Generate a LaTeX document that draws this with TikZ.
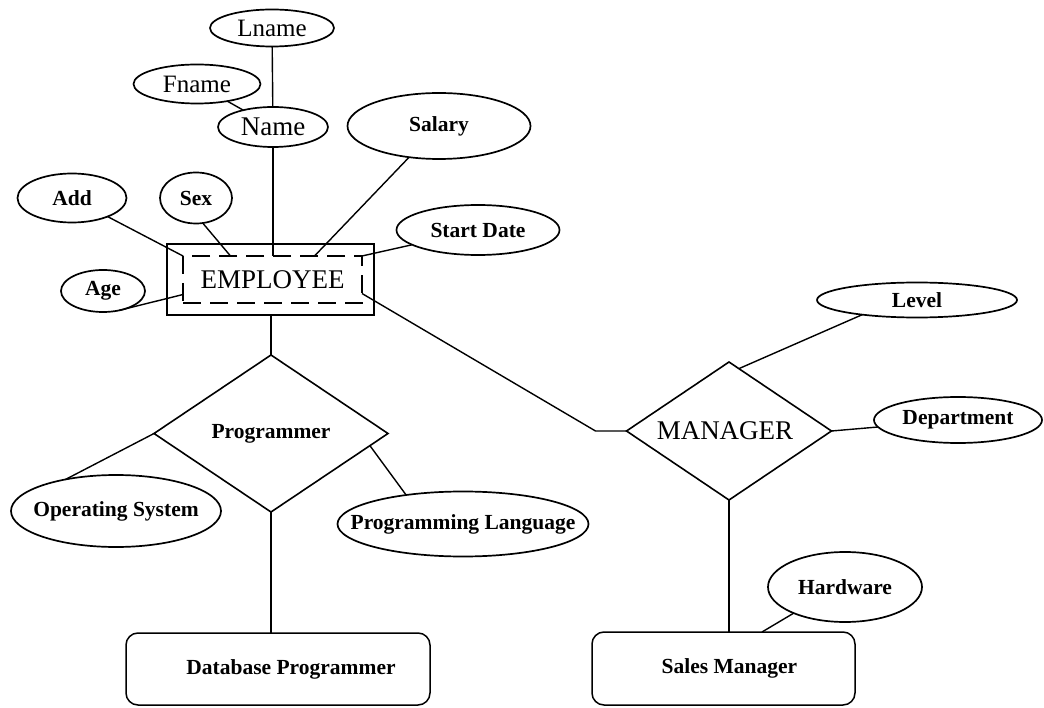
\documentclass[tikz,border=0pt]{standalone}
\usepackage{fontspec}
\setmainfont{Liberation Serif}
\usetikzlibrary{shapes.geometric,calc}
\newcommand\erdbold{\fontsize{21.5}{24}\selectfont\bfseries}
\newcommand\erdplain{\fontsize{27}{30}\selectfont}
\newcommand\erdsmall{\fontsize{25}{28}\selectfont}
\begin{document}
\begin{tikzpicture}[x=1pt,y=-1pt,
  every node/.style={inner sep=0pt,outer sep=0pt},
  oval/.style={ellipse,draw,line width=1.7pt},
  rel/.style={diamond,draw,line width=1.6pt},
  entbox/.style={draw,rounded corners=12pt,line width=1.5pt},
  bold label/.style={label={[font=\erdbold]center:#1}},
  plain label/.style={label={[font=\erdplain]center:#1}},
  small label/.style={label={[font=\erdsmall]center:#1}},
  link/.style={line width=1.4pt}]
\useasboundingbox (0,0) rectangle (1044,708);

% weak entity EMPLOYEE
\node[draw,line width=1.4pt,minimum width=207pt,minimum height=71pt] (emp) at (270.5,279.5) {};
\node[draw,line width=1.5pt,dash pattern=on 18pt off 9pt,minimum width=179pt,minimum height=47pt,font=\erdplain] (empin) at (272.5,279.5) {EMPLOYEE};

% attributes of EMPLOYEE
\node[oval,minimum width=124pt,minimum height=37pt,small label=Lname] (lname) at (272,28) {};
\node[oval,minimum width=127pt,minimum height=39pt,small label=Fname] (fname) at (197,84) {};
\node[oval,minimum width=110pt,minimum height=40pt,plain label=Name] (name) at (273,127) {};
\node[oval,minimum width=183pt,minimum height=66pt,bold label=Salary] (salary) at (439,126) {};
\node[oval,minimum width=109pt,minimum height=49pt,bold label=Add] (add) at (72,198) {};
\node[oval,minimum width=72pt,minimum height=51pt,bold label=Sex] (sex) at (196,198) {};
\node[oval,minimum width=163pt,minimum height=50pt,bold label=Start Date] (start) at (478,230) {};
\node[oval,minimum width=84pt,minimum height=42pt,bold label=Age] (age) at (103,291) {};

% Programmer branch
\node[rel,minimum width=234pt,minimum height=157pt,bold label=Programmer] (prog) at (271,433.5) {};
\node[oval,minimum width=210pt,minimum height=72pt,bold label=Operating System] (os) at (116,511) {};
\node[oval,minimum width=251pt,minimum height=65pt,bold label=Programming Language] (pl) at (463,524) {};
\node[entbox,minimum width=304pt,minimum height=72pt,label={[font=\erdbold,xshift=13pt]center:Database Programmer}] (dbp) at (278,669) {};

% MANAGER branch
\node[rel,minimum width=205pt,minimum height=138pt,label={[font=\erdplain,xshift=-4pt]center:MANAGER}] (mgr) at (729,431) {};
\node[oval,minimum width=200pt,minimum height=35pt,bold label=Level] (level) at (917,300) {};
\node[oval,minimum width=168pt,minimum height=46pt,bold label=Department] (dept) at (958,420) {};
\node[oval,minimum width=154pt,minimum height=70pt,bold label=Hardware] (hw) at (845,587) {};
\node[entbox,minimum width=263pt,minimum height=73pt,label={[font=\erdbold,xshift=6pt]center:Sales Manager}] (sm) at (723.5,668.5) {};

% connectors around EMPLOYEE
\draw[link] (lname) -- (name);
\draw[link] (fname) -- (name);
\draw[link] (name) -- (name |- empin.north);
\draw[link] (salary) -- ($(empin.north)+(42,0)$);
\draw[link] (sex.-75) -- ($(empin.north)+(-42,0)$);
\draw[link] (add) -- (empin.north west);
\draw[link] (start) -- (empin.north east);
\draw[link] (age.-50) -- ($(empin.west)+(0,15)$);

% connectors of Programmer
\draw[link] (prog.north |- emp.south) -- (prog.north);
\draw[link] (os.148) -- (prog.west);
\draw[link] (prog.-7) -- (pl.153);
\draw[link] (prog.south) -- (prog.south |- dbp.north);

% connectors of MANAGER
\draw[link] ($(empin.east)+(0,14)$) -- ($(mgr.west)+(-31,0)$) -- (mgr.west);
\draw[link] (level.195) -- (mgr.81);
\draw[link] (mgr.east) -- (dept.185);
\draw[link] (mgr.south) -- (mgr.south |- sm.north);
\draw[link] (hw.207) -- ($(sm.north)+(38.5,0)$);
\end{tikzpicture}
\end{document}
